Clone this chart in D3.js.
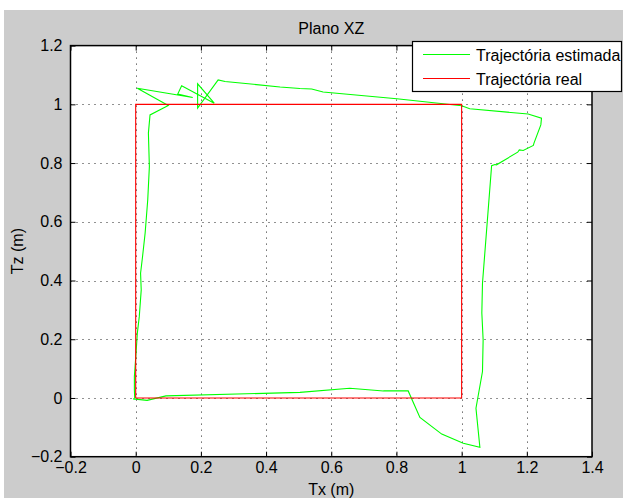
<!DOCTYPE html>
<html>
<head>
<meta charset="utf-8">
<script src="https://cdn.jsdelivr.net/npm/d3@7"></script>
<style>
  body { margin: 0; background: #fff; }
  text { font-family: "Liberation Sans", Arial, Helvetica, sans-serif; fill: #000; }
</style>
</head>
<body>
<div id="chart"></div>
<script>
// estimated trajectory (green)
const estX = [-0.003, -0.004, -0.004, 0.001, 0.005, 0.011, 0.017, 0.015, 0.021, 0.029, 0.037, 0.042, 0.039, 0.044,
  0.100, 0.005, 0.175, 0.129, 0.141, 0.241, 0.190, 0.190, 0.253, 0.274, 0.443, 0.504, 0.540, 0.575, 0.801, 1.000,
  1.025, 1.204, 1.245, 1.243, 1.222, 1.220, 1.189, 1.177, 1.172, 1.107, 1.102, 1.092, 1.064, 1.062, 1.066, 1.064,
  1.044, 1.056, 1.005, 0.939, 0.872, 0.836, 0.760, 0.657, 0.504, 0.093, 0.035, -0.008];
const estZ = [-0.001, 0.027, 0.073, 0.152, 0.220, 0.277, 0.368, 0.425, 0.481, 0.562, 0.675, 0.788, 0.902, 0.964,
  0.996, 1.055, 1.023, 1.035, 1.063, 1.004, 1.070, 0.987, 1.083, 1.078, 1.059, 1.054, 1.052, 1.042, 1.019, 0.995,
  0.985, 0.967, 0.953, 0.930, 0.868, 0.860, 0.843, 0.845, 0.837, 0.794, 0.795, 0.791, 0.391, 0.289, 0.198, 0.090,
  -0.035, -0.168, -0.154, -0.123, -0.066, 0.024, 0.024, 0.033, 0.019, 0.007, -0.008, -0.003];

// real trajectory (red square)
const realX = [0, 1, 1, 0, 0];
const realZ = [0, 0, 1, 1, 0];

const xTicks = [-0.2, 0, 0.2, 0.4, 0.6, 0.8, 1, 1.2, 1.4];
const xTickLabels = ["\u22120.2", "0", "0.2", "0.4", "0.6", "0.8", "1", "1.2", "1.4"];
const zTicks = [-0.2, 0, 0.2, 0.4, 0.6, 0.8, 1, 1.2];
const zTickLabels = ["\u22120.2", "0", "0.2", "0.4", "0.6", "0.8", "1", "1.2"];

const seriesNames = ["Trajectória estimada", "Trajectória real"];
const seriesColors = ["#00ff00", "#ff0000"];

/* figure + axes box */
const W = 623, H = 498;
const box = {left: 70.5, right: 592, top: 45.6, bottom: 456.7};

const svg = d3.select("#chart").append("svg")
  .attr("width", W).attr("height", H);

svg.append("rect")
  .attr("x", 4).attr("y", 10).attr("width", W - 4).attr("height", H - 10)
  .attr("fill", "#cccccc");

svg.append("rect")
  .attr("x", box.left).attr("y", box.top)
  .attr("width", box.right - box.left).attr("height", box.bottom - box.top)
  .attr("fill", "#fff");

const x = d3.scaleLinear().domain([-0.2, 1.4]).range([box.left, box.right]);
const y = d3.scaleLinear().domain([-0.2, 1.2]).range([box.bottom, box.top]);

/* dotted grid */
const grid = svg.append("g")
  .attr("stroke", "#222").attr("stroke-width", 1).attr("stroke-dasharray", "1,5");
grid.selectAll("line.gx").data(xTicks.slice(1, -1)).enter().append("line")
  .attr("x1", d => Math.round(x(d)) + 0.5).attr("x2", d => Math.round(x(d)) + 0.5)
  .attr("y1", box.top).attr("y2", box.bottom);
grid.selectAll("line.gy").data(zTicks.slice(1, -1)).enter().append("line")
  .attr("y1", d => Math.round(y(d)) + 0.5).attr("y2", d => Math.round(y(d)) + 0.5)
  .attr("x1", box.left).attr("x2", box.right);

/* lines */
const line = d3.line().x(d => x(d[0])).y(d => y(d[1]));
const est = estX.map((v, i) => [v, estZ[i]]);
const real = realX.map((v, i) => [v, realZ[i]]);

svg.append("path").datum(est)
  .attr("d", line).attr("fill", "none")
  .attr("stroke", seriesColors[0]).attr("stroke-width", 1.1);
svg.append("path").datum(real)
  .attr("d", line).attr("fill", "none")
  .attr("stroke", seriesColors[1]).attr("stroke-width", 1.1);

/* axes, ticks pointing inwards like matlab */
function styleAxis(g) {
  g.select(".domain").remove();
  g.selectAll(".tick line").attr("stroke", "#000");
  g.selectAll(".tick text").attr("font-size", 16).attr("font-family", "Liberation Sans, Arial, sans-serif").attr("fill", "#000");
}
svg.append("g")
  .attr("transform", "translate(0," + box.bottom + ")")
  .call(d3.axisBottom(x).tickValues(xTicks).tickSizeInner(-5).tickSizeOuter(0).tickPadding(5)
    .tickFormat((d, i) => xTickLabels[i]))
  .call(styleAxis);
svg.append("g")
  .attr("transform", "translate(0," + box.top + ")")
  .call(d3.axisTop(x).tickValues(xTicks).tickSizeInner(-5).tickSizeOuter(0).tickFormat(""))
  .call(styleAxis);
svg.append("g")
  .attr("transform", "translate(" + box.left + ",0)")
  .call(d3.axisLeft(y).tickValues(zTicks).tickSizeInner(-5).tickSizeOuter(0).tickPadding(8)
    .tickFormat((d, i) => zTickLabels[i]))
  .call(styleAxis);
svg.append("g")
  .attr("transform", "translate(" + box.right + ",0)")
  .call(d3.axisRight(y).tickValues(zTicks).tickSizeInner(-5).tickSizeOuter(0).tickFormat(""))
  .call(styleAxis);

svg.append("rect")
  .attr("x", box.left).attr("y", box.top)
  .attr("width", box.right - box.left).attr("height", box.bottom - box.top)
  .attr("fill", "none").attr("stroke", "#000").attr("stroke-width", 1.5);

/* titles */
svg.append("text")
  .attr("x", (box.left + box.right) / 2).attr("y", 34)
  .attr("text-anchor", "middle").attr("font-size", 16)
  .text("Plano XZ");
svg.append("text")
  .attr("x", (box.left + box.right) / 2).attr("y", 495)
  .attr("text-anchor", "middle").attr("font-size", 16)
  .text("Tx (m)");
svg.append("text")
  .attr("transform", "translate(23," + ((box.top + box.bottom) / 2) + ") rotate(-90)")
  .attr("text-anchor", "middle").attr("font-size", 16)
  .text("Tz (m)");

/* legend */
const legend = svg.append("g").attr("transform", "translate(412.5,41.5)");
legend.append("rect")
  .attr("width", 209).attr("height", 50)
  .attr("fill", "#fff").attr("stroke", "#000").attr("stroke-width", 1.2);
const item = legend.selectAll("g.item").data(seriesNames).enter().append("g")
  .attr("transform", (d, i) => "translate(0," + (13 + 24 * i) + ")");
item.append("line")
  .attr("x1", 10.5).attr("x2", 57.5).attr("y1", 0).attr("y2", 0)
  .attr("stroke", (d, i) => seriesColors[i]).attr("stroke-width", 1.1);
item.append("text")
  .attr("x", 63.5).attr("y", 6).attr("font-size", 16)
  .text(d => d);
</script>
</body>
</html>
